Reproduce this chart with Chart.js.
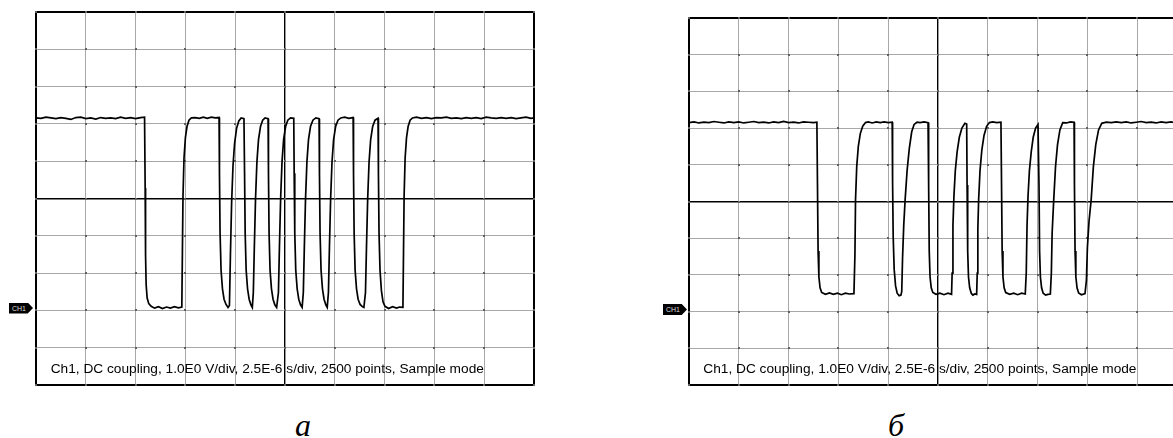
<!DOCTYPE html>
<html>
<head>
<meta charset="utf-8">
<script src="https://cdn.jsdelivr.net/npm/chart.js@4.4.1/dist/chart.umd.min.js"></script>
<style>
  html, body { margin: 0; padding: 0; background: #fff; width: 1173px; height: 438px; overflow: hidden; }
  canvas { position: absolute; }
  .note { position: absolute; top: 361.6px; font-family: 'Liberation Sans', Arial, sans-serif; font-size: 13.7px; line-height: 14px; color: #000; white-space: nowrap; }
  .label { position: absolute; top: 409px; width: 40px; text-align: center; font-family: 'Liberation Serif', 'Times New Roman', serif; font-style: italic; font-size: 32px; line-height: 32px; color: #000; }
  .ch { position: absolute; width: 24px; height: 11px; box-sizing: border-box; padding-left: 3px; background: #000; color: #ddd; font-family: 'Liberation Sans', Arial, sans-serif; font-size: 7px; line-height: 11px; clip-path: polygon(0 0, 78% 0, 100% 50%, 78% 100%, 0 100%); }
</style>
</head>
<body>
<canvas id="scopeA" width="502" height="377" style="left:34px; top:10px;"></canvas>
<canvas id="scopeB" width="502" height="371" style="left:687px; top:16px;"></canvas>

<div class="note" style="left:50.7px;">Ch1, DC coupling, 1.0E0 V/div, 2.5E-6 s/div, 2500 points, Sample mode</div>
<div class="note" style="left:703.3px;">Ch1, DC coupling, 1.0E0 V/div, 2.5E-6 s/div, 2500 points, Sample mode</div>

<div class="ch" style="left:9px; top:302.5px;">CH1</div>
<div class="ch" style="left:663px; top:304px;">CH1</div>

<div class="label" style="left:283px;">а</div>
<div class="label" style="left:876px;">б</div>

<script>
// time in microseconds (2.5 us/div, 10 div), voltage in volts (1 V/div)
const timeA = [
  0, 0.25, 0.5, 0.75, 1.0, 1.25, 1.5, 1.75, 2.0, 2.25, 2.5, 2.75, 3.0, 3.25, 3.5, 3.75, 4.0, 4.25, 4.5, 4.75, 5.0, 5.25, 5.45,
  5.48, 5.50, 5.53, 5.58, 5.66, 5.78,
  5.95, 6.15, 6.35, 6.55, 6.75, 6.95, 7.15, 7.32,
  7.35, 7.38, 7.43, 7.50, 7.58, 7.68, 7.80,
  8.0, 8.2, 8.4, 8.6, 8.8, 9.0, 9.19,
  9.21, 9.24, 9.29, 9.36, 9.44, 9.54, 9.64,
  9.71, 9.76, 9.82, 9.89, 9.97, 10.07, 10.18, 10.30, 10.44,
  10.47, 10.50, 10.55, 10.62, 10.70, 10.79, 10.86,
  10.91, 10.96, 11.02, 11.09, 11.17, 11.27, 11.38, 11.50, 11.65,
  11.67, 11.70, 11.75, 11.82, 11.90, 11.99, 12.08,
  12.17, 12.22, 12.28, 12.35, 12.43, 12.53, 12.64, 12.78, 12.94,
  12.96, 12.99, 13.04, 13.11, 13.19, 13.28, 13.36,
  13.42, 13.47, 13.53, 13.60, 13.68, 13.78, 13.90, 14.05, 14.21,
  14.23, 14.26, 14.31, 14.38, 14.46, 14.55, 14.62,
  14.68, 14.73, 14.79, 14.86, 14.94, 15.04, 15.16, 15.30, 15.50, 15.70, 15.92,
  15.94, 15.97, 16.02, 16.09, 16.17, 16.27, 16.38, 16.46,
  16.54, 16.59, 16.65, 16.72, 16.80, 16.90, 17.02, 17.17,
  17.19, 17.22, 17.27, 17.34, 17.42, 17.52,
  17.70, 17.90, 18.10, 18.25, 18.42,
  18.45, 18.48, 18.53, 18.60, 18.68, 18.78, 18.90,
  19.10, 19.35, 19.60, 19.85, 20.10, 20.35, 20.60, 20.85, 21.10, 21.35, 21.60, 21.85, 22.10, 22.35, 22.60, 22.85, 23.10, 23.35, 23.60, 23.85, 24.10, 24.35, 24.60, 24.85, 25.0
];
const voltA = [
  5.08, 5.07, 5.10, 5.08, 5.06, 5.09, 5.07, 5.04, 5.09, 5.10, 5.06, 5.08, 5.05, 5.09, 5.07, 5.08, 5.06, 5.10, 5.07, 5.09, 5.06, 5.09, 5.10,
  3.2, 1.4, 0.6, 0.25, 0.1, 0.03,
  -0.02, 0.02, -0.03, 0.01, -0.02, 0.02, -0.01, 0.01,
  1.5, 3.0, 4.0, 4.55, 4.85, 5.02, 5.08,
  5.09, 5.07, 5.10, 5.07, 5.10, 5.08, 5.09,
  3.6, 2.0, 1.0, 0.5, 0.22, 0.08, 0.0,
  0.05, 1.4, 2.8, 3.8, 4.4, 4.8, 5.0, 5.08, 5.06,
  3.6, 2.0, 1.0, 0.5, 0.22, 0.07, 0.0,
  0.4, 1.6, 2.9, 3.9, 4.5, 4.85, 5.02, 5.08, 5.06,
  3.6, 2.0, 1.0, 0.5, 0.22, 0.07, 0.0,
  0.4, 1.6, 2.9, 3.9, 4.5, 4.85, 5.02, 5.08, 5.07,
  3.6, 2.0, 1.0, 0.5, 0.22, 0.07, 0.0,
  0.4, 1.6, 2.9, 3.9, 4.5, 4.85, 5.02, 5.08, 5.06,
  3.6, 2.0, 1.0, 0.5, 0.22, 0.07, 0.0,
  0.4, 1.6, 2.9, 3.9, 4.5, 4.85, 5.02, 5.08, 5.10, 5.07, 5.09,
  3.6, 2.0, 1.0, 0.5, 0.22, 0.08, 0.02, 0.0,
  0.4, 1.6, 2.9, 3.9, 4.5, 4.85, 5.02, 5.07,
  3.6, 2.0, 1.0, 0.45, 0.15, 0.03,
  -0.03, 0.02, -0.02, 0.01, 0.0,
  1.5, 3.0, 4.0, 4.55, 4.85, 5.02, 5.08,
  5.10, 5.07, 5.09, 5.06, 5.09, 5.08, 5.10, 5.07, 5.08, 5.06, 5.09, 5.07, 5.09, 5.06, 5.10, 5.08, 5.07, 5.09, 5.07, 5.09, 5.06, 5.08, 5.10, 5.07, 5.08
];

const timeB = [
  0, 0.25, 0.5, 0.75, 1.0, 1.25, 1.5, 1.75, 2.0, 2.25, 2.5, 2.75, 3.0, 3.25, 3.5, 3.75, 4.0, 4.25, 4.5, 4.75, 5.0, 5.25, 5.5, 5.75, 6.0, 6.25, 6.42,
  6.45, 6.48, 6.52, 6.58, 6.66,
  6.85, 7.05, 7.25, 7.45, 7.65, 7.85, 8.05, 8.28,
  8.33, 8.36, 8.42, 8.50, 8.60, 8.72, 8.86, 9.00,
  9.2, 9.4, 9.6, 9.8, 10.0, 10.2,
  10.22, 10.25, 10.30, 10.37, 10.45, 10.55, 10.64,
  10.68, 10.72, 10.78, 10.85, 10.95, 11.06, 11.18, 11.30, 11.45,
  11.6, 11.8, 12.0,
  12.03, 12.06, 12.10, 12.16, 12.24,
  12.4, 12.6, 12.8, 13.0, 13.18,
  13.21, 13.25, 13.30, 13.37, 13.46, 13.57, 13.70, 13.85, 13.94,
  13.96, 13.99, 14.03, 14.09, 14.17, 14.25, 14.35, 14.44,
  14.47, 14.50, 14.54, 14.61, 14.70, 14.81, 14.94, 15.08,
  15.25, 15.45, 15.66,
  15.69, 15.72, 15.76, 15.82, 15.90,
  16.1, 16.3, 16.5, 16.7, 16.88,
  16.93, 16.97, 17.02, 17.09, 17.18, 17.28, 17.40, 17.52,
  17.57, 17.60, 17.64, 17.70, 17.78, 17.90, 18.02, 18.14,
  18.19, 18.23, 18.31, 18.40, 18.50, 18.62, 18.76,
  18.95, 19.15, 19.33,
  19.35, 19.38, 19.42, 19.48, 19.56, 19.70, 19.88,
  19.95, 20.00, 20.08, 20.19, 20.30, 20.42, 20.56, 20.72,
  20.95, 21.2, 21.45, 21.7, 21.95, 22.2, 22.45, 22.7, 22.95, 23.2, 23.45, 23.7, 23.95, 24.2, 24.45, 24.7, 25.0
];
const voltB = [
  5.10, 5.12, 5.09, 5.11, 5.10, 5.13, 5.11, 5.09, 5.12, 5.10, 5.12, 5.09, 5.11, 5.13, 5.10, 5.11, 5.09, 5.12, 5.10, 5.13, 5.10, 5.11, 5.09, 5.12, 5.11, 5.10, 5.11,
  3.4, 1.6, 0.9, 0.6, 0.47,
  0.42, 0.46, 0.42, 0.45, 0.41, 0.45, 0.43, 0.44,
  1.5, 3.0, 3.9, 4.45, 4.8, 5.0, 5.1, 5.12,
  5.09, 5.12, 5.10, 5.12, 5.10, 5.11,
  3.5, 2.0, 1.1, 0.65, 0.45, 0.38, 0.40,
  0.5, 1.4, 2.3, 3.0, 3.8, 4.4, 4.85, 5.05, 5.11,
  5.10, 5.12, 5.10,
  3.4, 1.6, 0.9, 0.6, 0.47,
  0.42, 0.45, 0.41, 0.45, 0.42,
  1.0, 2.3, 3.1, 3.8, 4.3, 4.7, 4.95, 5.08, 5.06,
  3.4, 1.6, 0.9, 0.6, 0.45, 0.40, 0.43, 0.42,
  1.0, 2.2, 3.0, 3.8, 4.35, 4.75, 5.0, 5.1,
  5.12, 5.10, 5.11,
  3.4, 1.6, 0.9, 0.6, 0.47,
  0.42, 0.45, 0.41, 0.45, 0.43,
  1.0, 2.3, 3.1, 3.8, 4.3, 4.7, 4.95, 5.05,
  3.4, 1.6, 0.9, 0.6, 0.45, 0.40, 0.42, 0.43,
  1.0, 2.1, 3.0, 3.9, 4.5, 4.9, 5.1,
  5.09, 5.12, 5.11,
  3.4, 1.6, 0.9, 0.6, 0.46, 0.41, 0.44,
  0.8, 1.7, 2.4, 3.0, 3.9, 4.5, 4.9, 5.08,
  5.11, 5.10, 5.12, 5.10, 5.12, 5.09, 5.11, 5.13, 5.10, 5.11, 5.09, 5.12, 5.10, 5.12, 5.09, 5.11, 5.10
];

// bottom of each screen in volts (ground marker position)
const bottomVoltA = -2.08;
const bottomVoltB = -2.05;
const divisions = [0, 1, 2, 3, 4, 5, 6, 7, 8, 9, 10];

const gridColor = (ctx) => {
  const i = ctx.index;
  return (i === 0 || i === 5 || i === 10) ? '#000' : '#a8a8a8';
};
const gridWidth = (ctx) => {
  const i = ctx.index;
  if (i === 0 || i === 10) return 2;
  return i === 5 ? 1.4 : 1;
};

// little dots where the graticule lines cross
const crossDots = {
  id: 'crossDots',
  beforeDatasetsDraw(chart) {
    const { ctx, scales } = chart;
    ctx.save();
    ctx.fillStyle = '#606060';
    scales.x.ticks.forEach((tx) => {
      const px = scales.x.getPixelForValue(tx.value);
      scales.y.ticks.forEach((ty) => {
        const py = scales.y.getPixelForValue(ty.value);
        ctx.fillRect(Math.round(px) - 1, Math.round(py) - 1, 2, 2);
      });
    });
    ctx.restore();
  },
};

const makeScope = (id, times, volts, bottom) => {
  const points = times.map((t, i) => ({ x: t, y: volts[i] }));
  new Chart(document.getElementById(id), {
    type: 'line',
    data: {
      datasets: [{
        data: points,
        borderColor: '#000',
        borderWidth: 1.7,
        pointRadius: 0,
        tension: 0,
        fill: false,
      }],
    },
    options: {
      responsive: false,
      animation: false,
      events: [],
      layout: { padding: 2 },
      plugins: { legend: { display: false }, tooltip: { enabled: false } },
      scales: {
        x: {
          type: 'linear',
          min: 0,
          max: 25,
          ticks: { display: false, stepSize: 2.5 },
          border: { display: false },
          grid: { drawTicks: false, color: gridColor, lineWidth: gridWidth },
        },
        y: {
          type: 'linear',
          min: bottom,
          max: bottom + 10,
          afterBuildTicks: (axis) => {
            axis.ticks = divisions.map((d) => ({ value: bottom + d }));
          },
          ticks: { display: false },
          border: { display: false },
          grid: { drawTicks: false, color: gridColor, lineWidth: gridWidth },
        },
      },
    },
    plugins: [crossDots],
  });
};

makeScope('scopeA', timeA, voltA, bottomVoltA);
makeScope('scopeB', timeB, voltB, bottomVoltB);
</script>
</body>
</html>
